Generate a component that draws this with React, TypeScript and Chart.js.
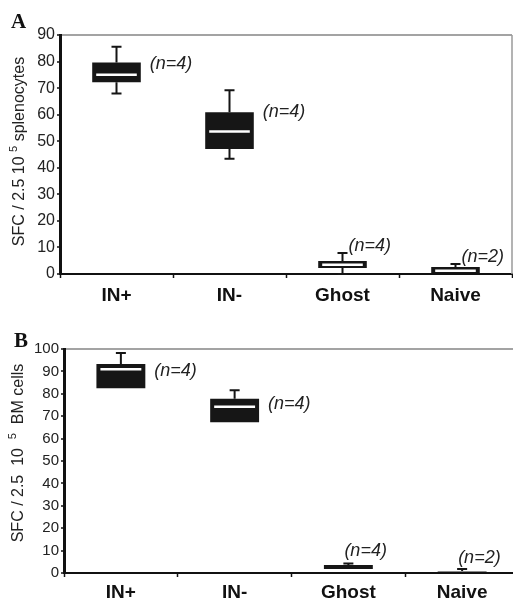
import React, { useEffect, useRef } from "react";
import { Chart, registerables } from "chart.js";

Chart.register(...registerables);

// ---------- data ----------
const categories = ["IN+", "IN-", "Ghost", "Naive"];
const sampleSizes = ["(n=4)", "(n=4)", "(n=4)", "(n=2)"];

// Panel A : SFC / 2.5 10^5 splenocytes
const aMin = [68.0, 43.4, 0.0, 0.0];
const aQ1 = [72.2, 47.1, 2.3, 0.0];
const aMedian = [75.0, 53.7, 3.5, 1.2];
const aQ3 = [79.6, 60.9, 4.9, 2.6];
const aMax = [85.6, 69.2, 7.9, 3.8];
const aLabelAt = [79.0, 61.0, 8.0, 3.6];
const aTickValues = [0, 10, 20, 30, 40, 50, 60, 70, 80, 90];

// Panel B : SFC / 2.5 10^5 BM cells
const bMin = [82.5, 67.3, 1.8, 0.0];
const bQ1 = [82.5, 67.3, 1.8, 0.0];
const bMedian = [91.0, 74.2, 2.7, 0.4];
const bQ3 = [93.3, 77.8, 3.6, 0.9];
const bMax = [98.2, 81.6, 4.2, 1.8];
const bLabelAt = [90.0, 75.4, 6.7, 3.6];
const bTickValues = [0, 10, 20, 30, 40, 50, 60, 70, 80, 90, 100];

const SANS = "'Liberation Sans', Arial, Helvetica, sans-serif";
const SERIF = "'Liberation Serif', 'Times New Roman', serif";

type Spec = {
  letter: string;
  letterX: number;
  letterY: number;
  min: number[];
  q1: number[];
  med: number[];
  q3: number[];
  max: number[];
  labelAt: number[];
  ticks: number[];
  yMax: number;
  titleParts: [string, string, string];
  titleX: number;
  titleDy: number;
  titleFont: number;
  tickFont: number;
  yAxisWidth: number;
  xAxisHeight: number;
  xLabelPad: number;
  padding: { top: number; right: number; left: number; bottom: number };
  topLabelDx: number;
  rightBorder: boolean;
  thinBoxColor: string;
};

function makePlugin(s: Spec) {
  return {
    id: "boxExtras" + s.letter,
    beforeDatasetsDraw(chart: any) {
      const { ctx, chartArea } = chart;
      if (s.rightBorder) {
        ctx.save();
        ctx.strokeStyle = "#9a9a9a";
        ctx.lineWidth = 1.5;
        ctx.beginPath();
        ctx.moveTo(chartArea.right, chartArea.top);
        ctx.lineTo(chartArea.right, chartArea.bottom);
        ctx.stroke();
        ctx.restore();
      }
    },
    afterDatasetsDraw(chart: any) {
      const ctx = chart.ctx;
      const y = chart.scales.y;
      const meta = chart.getDatasetMeta(0);
      meta.data.forEach((bar: any, i: number) => {
        const cx = bar.x;
        const half = bar.width / 2;
        const pMax = y.getPixelForValue(s.max[i]);
        const pQ3 = y.getPixelForValue(s.q3[i]);
        const pQ1 = y.getPixelForValue(s.q1[i]);
        const pMin = y.getPixelForValue(s.min[i]);
        const pMed = y.getPixelForValue(s.med[i]);
        ctx.save();
        ctx.strokeStyle = "#151515";
        ctx.lineWidth = 2;
        ctx.lineCap = "butt";
        if (pQ3 - pMax > 0.5) {
          ctx.beginPath();
          ctx.moveTo(cx, pQ3);
          ctx.lineTo(cx, pMax);
          ctx.moveTo(cx - 5, pMax);
          ctx.lineTo(cx + 5, pMax);
          ctx.stroke();
        }
        if (pMin - pQ1 > 0.5) {
          ctx.beginPath();
          ctx.moveTo(cx, pQ1);
          ctx.lineTo(cx, pMin);
          ctx.moveTo(cx - 5, pMin);
          ctx.lineTo(cx + 5, pMin);
          ctx.stroke();
        }
        if (pQ1 - pQ3 > 5) {
          ctx.strokeStyle = "#ffffff";
          ctx.lineWidth = 2.5;
          ctx.beginPath();
          ctx.moveTo(cx - half + 4, pMed);
          ctx.lineTo(cx + half - 4, pMed);
          ctx.stroke();
        }
        // sample size labels
        ctx.fillStyle = "#222";
        ctx.font = "italic 18px " + SANS;
        const pLab = y.getPixelForValue(s.labelAt[i]);
        if (i < 2) {
          ctx.textAlign = "left";
          ctx.textBaseline = "middle";
          ctx.fillText(sampleSizes[i], cx + half + 9, pLab);
        } else {
          ctx.textAlign = "left";
          ctx.textBaseline = "bottom";
          ctx.fillText(sampleSizes[i], cx + s.topLabelDx, pLab + 2);
        }
        ctx.restore();
      });
    },
    afterDraw(chart: any) {
      const { ctx, chartArea } = chart;
      ctx.save();
      // panel letter
      ctx.fillStyle = "#111";
      ctx.font = "bold 21px " + SERIF;
      ctx.textAlign = "left";
      ctx.textBaseline = "alphabetic";
      ctx.fillText(s.letter, s.letterX, s.letterY);
      // y title with superscript
      const yc = (chartArea.top + chartArea.bottom) / 2 + s.titleDy;
      ctx.translate(s.titleX, yc);
      ctx.rotate(-Math.PI / 2);
      const main = s.titleFont + "px " + SANS;
      const sup = Math.round(s.titleFont * 0.7) + "px " + SANS;
      ctx.font = main;
      const w1 = ctx.measureText(s.titleParts[0]).width;
      const w3 = ctx.measureText(s.titleParts[2]).width;
      ctx.font = sup;
      const w2 = ctx.measureText(s.titleParts[1]).width;
      let x0 = -(w1 + w2 + w3) / 2;
      ctx.fillStyle = "#222";
      ctx.textBaseline = "middle";
      ctx.font = main;
      ctx.fillText(s.titleParts[0], x0, 0);
      x0 += w1;
      ctx.font = sup;
      ctx.fillText(s.titleParts[1], x0, -s.titleFont * 0.38);
      x0 += w2;
      ctx.font = main;
      ctx.fillText(s.titleParts[2], x0, 0);
      ctx.restore();
    },
  };
}

function makeConfig(s: Spec): any {
  return {
    type: "bar",
    data: {
      labels: categories,
      datasets: [
        {
          data: s.q1.map((v, i) => [v, s.q3[i]]),
          backgroundColor: s.q1.map((v, i) => (s.q3[i] - v < 1 ? s.thinBoxColor : "#161616")),
          borderWidth: 0,
          barPercentage: 0.43,
          categoryPercentage: 1,
        },
      ],
    },
    options: {
      responsive: false,
      animation: false,
      layout: { padding: s.padding },
      plugins: {
        legend: { display: false },
        tooltip: { enabled: false },
        title: { display: false },
      },
      scales: {
        x: {
          offset: true,
          afterFit: (sc: any) => {
            sc.height = s.xAxisHeight;
          },
          grid: {
            offset: true,
            drawOnChartArea: false,
            drawTicks: true,
            tickLength: 4,
            tickColor: "#111",
            tickWidth: 1.5,
            color: "#111",
          },
          border: { display: true, color: "#111", width: 2 },
          ticks: {
            color: "#111",
            padding: s.xLabelPad,
            font: { family: SANS, size: 19, weight: "bold" },
            maxRotation: 0,
          },
        },
        y: {
          min: 0,
          max: s.yMax,
          afterFit: (sc: any) => {
            sc.width = s.yAxisWidth;
          },
          afterBuildTicks: (sc: any) => {
            sc.ticks = s.ticks.map((v) => ({ value: v }));
          },
          grid: {
            drawTicks: true,
            tickLength: 3,
            tickColor: "#111",
            tickWidth: 1.5,
            lineWidth: 2,
            color: (c: any) => (c.tick && c.tick.value === s.yMax ? "#a3a3a3" : "rgba(0,0,0,0)"),
          },
          border: { display: true, color: "#111", width: 3 },
          ticks: {
            color: "#222",
            padding: 2,
            font: { family: SANS, size: s.tickFont },
          },
        },
      },
    },
    plugins: [makePlugin(s)],
  };
}

const specA: Spec = {
  letter: "A",
  letterX: 11,
  letterY: 28,
  min: aMin,
  q1: aQ1,
  med: aMedian,
  q3: aQ3,
  max: aMax,
  labelAt: aLabelAt,
  ticks: aTickValues,
  yMax: 90,
  titleParts: ["SFC / 2.5 10 ", "5", " splenocytes"],
  titleX: 20,
  titleDy: -3,
  titleFont: 16,
  tickFont: 16,
  yAxisWidth: 60,
  xAxisHeight: 41,
  xLabelPad: 6,
  padding: { top: 35, right: 1, left: 0, bottom: 0 },
  topLabelDx: 6,
  rightBorder: true,
  thinBoxColor: "#161616",
};

const specB: Spec = {
  letter: "B",
  letterX: 14,
  letterY: 32,
  min: bMin,
  q1: bQ1,
  med: bMedian,
  q3: bQ3,
  max: bMax,
  labelAt: bLabelAt,
  ticks: bTickValues,
  yMax: 100,
  titleParts: ["SFC / 2.5  10  ", "5", "  BM cells"],
  titleX: 19,
  titleDy: -8,
  titleFont: 16,
  tickFont: 15,
  yAxisWidth: 64,
  xAxisHeight: 30,
  xLabelPad: 4,
  padding: { top: 34, right: 6, left: 0, bottom: 0 },
  topLabelDx: -4,
  rightBorder: false,
  thinBoxColor: "#8a8a8a",
};

function Panel({ spec, top, width, height }: { spec: Spec; top: number; width: number; height: number }) {
  const ref = useRef<HTMLCanvasElement | null>(null);
  useEffect(() => {
    if (!ref.current) return;
    const chart = new Chart(ref.current, makeConfig(spec));
    return () => chart.destroy();
  }, [spec]);
  return (
    <canvas
      ref={ref}
      width={width}
      height={height}
      style={{ position: "absolute", left: 0, top, width, height, display: "block" }}
    />
  );
}

export default function App() {
  return (
    <div
      style={{
        position: "fixed",
        left: 0,
        top: 0,
        width: 513,
        height: 603,
        overflow: "hidden",
        background: "#ffffff",
      }}
    >
      <Panel spec={specA} top={0} width={513} height={315} />
      <Panel spec={specB} top={315} width={525} height={288} />
    </div>
  );
}
